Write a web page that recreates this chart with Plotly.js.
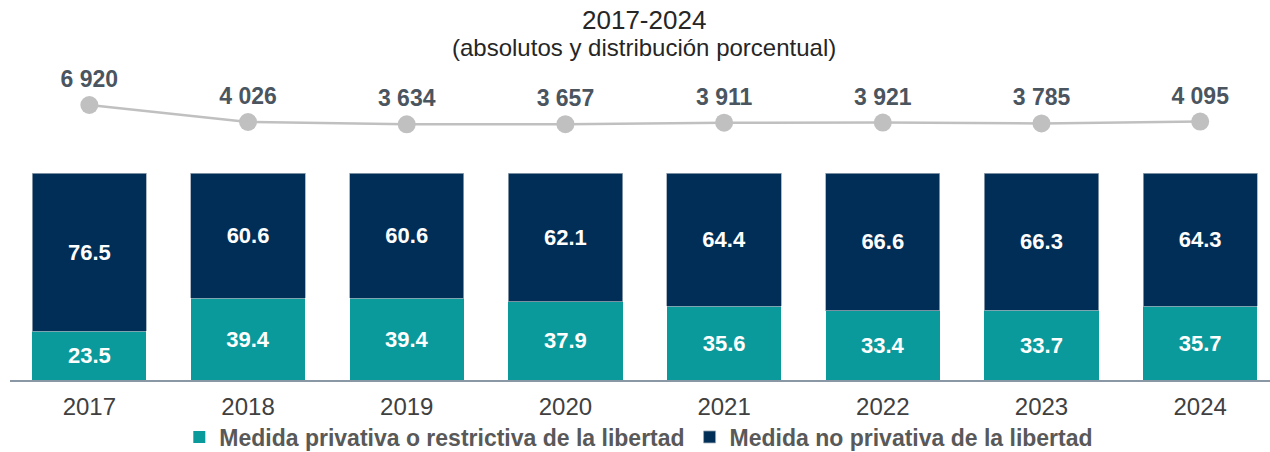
<!DOCTYPE html>
<html>
<head>
<meta charset="utf-8">
<script src="https://cdn.plot.ly/plotly-3.0.1.min.js"></script>
<style>html,body{margin:0;padding:0;background:#fff;}#chart{width:1270px;height:452px;}</style>
</head>
<body>
<div id="chart"></div>
<script>
var years = ['2017','2018','2019','2020','2021','2022','2023','2024'];
var privativa = [23.5, 39.4, 39.4, 37.9, 35.6, 33.4, 33.7, 35.7];
var noPrivativa = [76.5, 60.6, 60.6, 62.1, 64.4, 66.6, 66.3, 64.3];
var totales = [6920, 4026, 3634, 3657, 3911, 3921, 3785, 4095];

function fmt(v){ return String(v).replace(/\B(?=(\d{3})+(?!\d))/g, ' '); }

var font = 'Liberation Sans, Arial, sans-serif';

var traces = [
  {
    type: 'bar', name: 'Medida privativa o restrictiva de la libertad',
    x: years, y: privativa, text: privativa.map(function(v){return v.toFixed(1);}),
    textposition: 'inside', insidetextanchor: 'middle', textangle: 0,
    textfont: {color: '#ffffff', size: 22, family: font, weight: 'bold'},
    marker: {color: '#0a9a9b'},
    width: 0.72, hoverinfo: 'none'
  },
  {
    type: 'bar', name: 'Medida no privativa de la libertad',
    x: years, y: noPrivativa, text: noPrivativa.map(function(v){return v.toFixed(1);}),
    textposition: 'inside', insidetextanchor: 'middle', textangle: 0,
    textfont: {color: '#ffffff', size: 22, family: font, weight: 'bold'},
    marker: {color: '#012e56', line: {color: '#9aa8b6', width: 0.8}},
    width: 0.72, hoverinfo: 'none'
  },
  {
    type: 'scatter', mode: 'lines+markers+text', name: 'Total',
    x: years, y: totales, yaxis: 'y2', showlegend: false,
    text: totales.map(fmt), textposition: 'top center',
    textfont: {color: '#4a5560', size: 23, family: font, weight: 'bold'},
    line: {color: '#c0c0c0', width: 2.5},
    marker: {color: '#c0c0c0', size: 18},
    hoverinfo: 'none', cliponaxis: false
  }
];

var layout = {
  width: 1270, height: 452,
  margin: {l: 10, r: 0, t: 60, b: 72},
  paper_bgcolor: '#ffffff', plot_bgcolor: '#ffffff',
  barmode: 'stack',
  showlegend: true,
  font: {family: font},
  xaxis: {
    type: 'category', range: [-0.5, 7.44], automargin: false,
    showline: true, linecolor: '#8a97a5', linewidth: 2,
    ticks: '', showgrid: false, zeroline: false, ticklabelstandoff: 4,
    tickfont: {size: 24, color: '#404040', family: font}
  },
  yaxis: {
    range: [0, 154.6], visible: false, showgrid: false, zeroline: false, fixedrange: true
  },
  yaxis2: {
    range: [-39897, 14581], overlaying: 'y', visible: false, showgrid: false, zeroline: false
  },
  legend: {
    orientation: 'h', x: 0.503, xanchor: 'center', xref: 'container',
    y: 15/452, yanchor: 'middle', yref: 'container',
    font: {size: 23, color: '#595959', family: font, weight: 'bold'},
    itemwidth: 30, traceorder: 'normal', bgcolor: 'rgba(0,0,0,0)'
  },
  annotations: [
    {text: '2017-2024', xref: 'paper', yref: 'paper', x: 0.503, y: 1 + 40/320, xanchor: 'center', yanchor: 'middle',
     showarrow: false, font: {size: 26, color: '#262626', family: font}},
    {text: '(absolutos y distribución porcentual)', xref: 'paper', yref: 'paper', x: 0.503, y: 1 + 12/320, xanchor: 'center', yanchor: 'middle',
     showarrow: false, font: {size: 24, color: '#262626', family: font}}
  ]
};

Plotly.newPlot('chart', traces, layout, {displayModeBar: false, staticPlot: true});
</script>
</body>
</html>
